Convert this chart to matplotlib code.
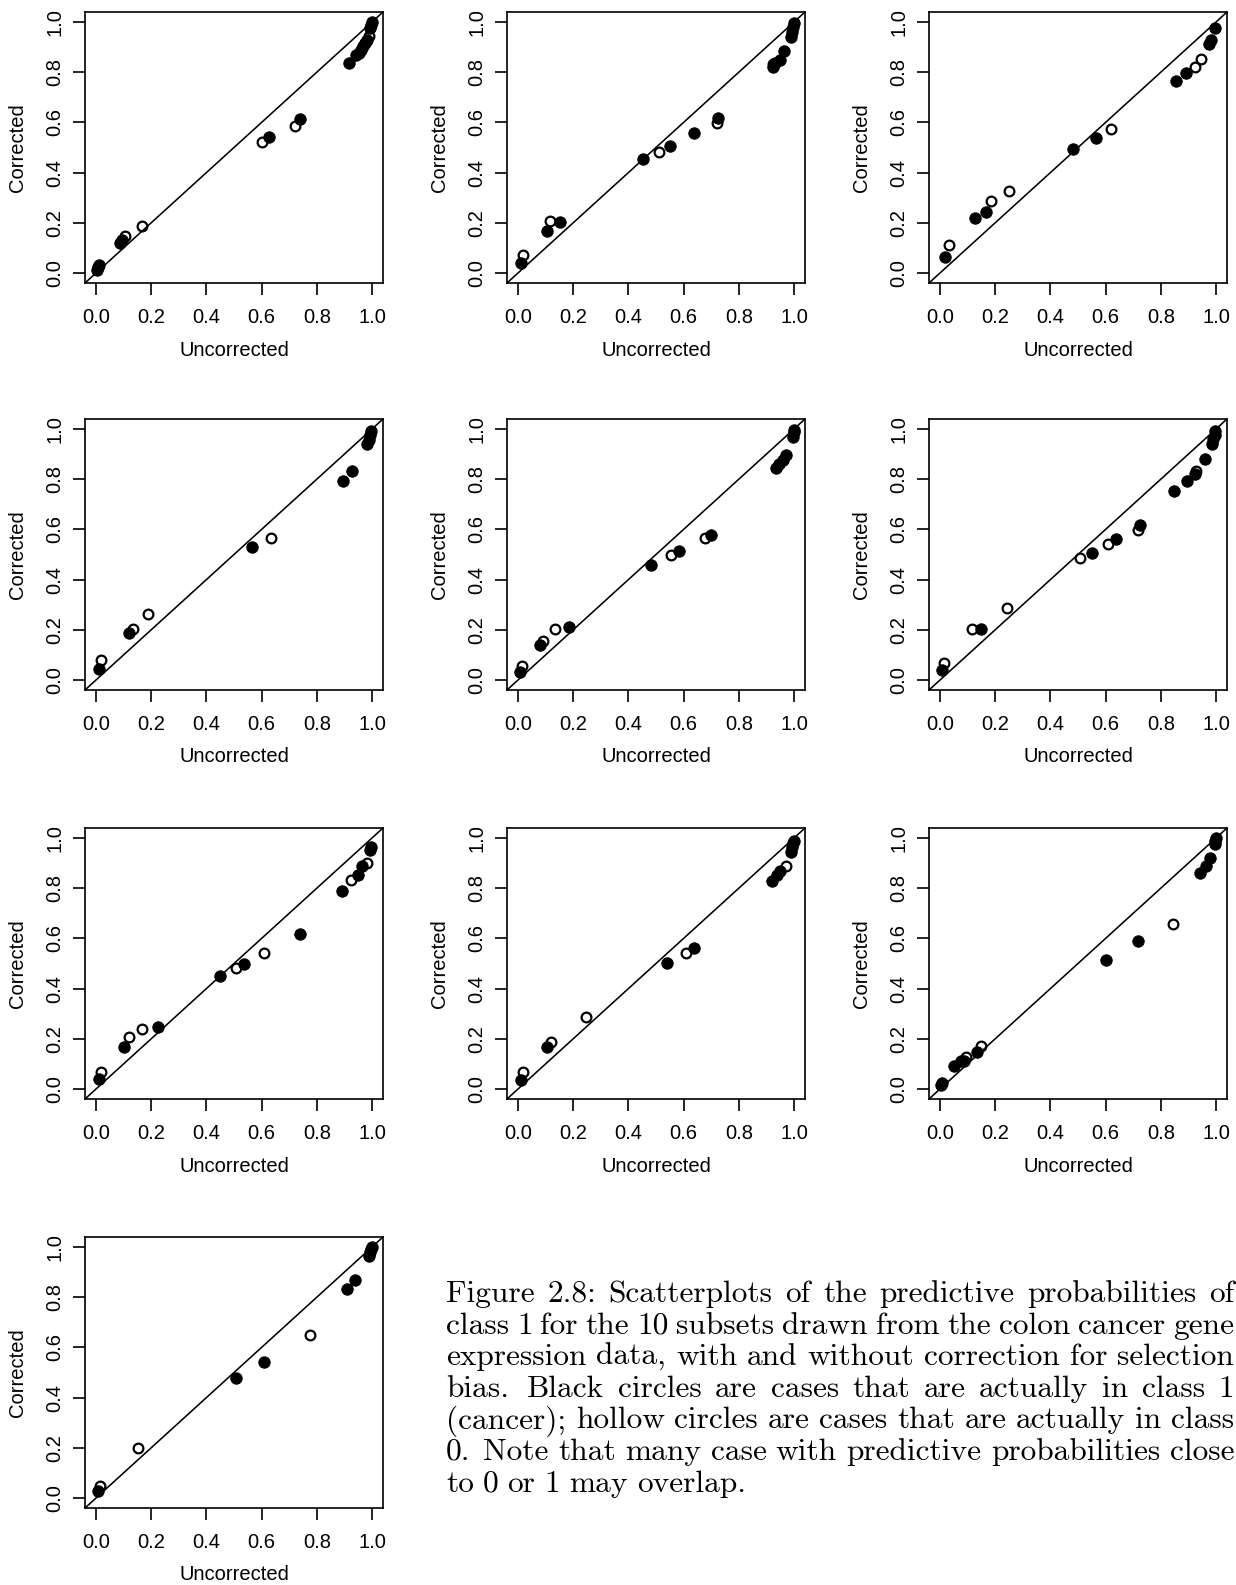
import matplotlib
matplotlib.use('Agg')
import matplotlib.pyplot as plt
import numpy as np

plt.rcParams['font.family'] = ['Liberation Sans', 'DejaVu Sans']

# predictive probabilities of class 1, uncorrected (u) vs corrected (c)
# black = actually class 1 (cancer), white = actually class 0
s1_black_u = [0.004, 0.008, 0.012, 0.088, 0.095, 0.627, 0.74, 0.918, 0.942, 0.952, 0.962, 0.968, 0.975, 0.982, 0.994, 0.997, 1.0]
s1_black_c = [0.012, 0.022, 0.03, 0.12, 0.13, 0.54, 0.612, 0.836, 0.868, 0.875, 0.89, 0.905, 0.915, 0.93, 0.975, 0.99, 1.0]
s1_white_u = [0.104, 0.166, 0.60, 0.72, 0.99]
s1_white_c = [0.148, 0.186, 0.52, 0.586, 0.943]

s2_black_u = [0.012, 0.105, 0.151, 0.452, 0.552, 0.636, 0.725, 0.924, 0.930, 0.948, 0.963, 0.988, 0.993, 0.997, 1.0]
s2_black_c = [0.040, 0.168, 0.205, 0.453, 0.506, 0.559, 0.616, 0.822, 0.835, 0.850, 0.885, 0.940, 0.960, 0.980, 0.997]
s2_white_u = [0.018, 0.117, 0.512, 0.721, 0.925]
s2_white_c = [0.070, 0.208, 0.483, 0.597, 0.832]

s3_black_u = [0.019, 0.125, 0.167, 0.482, 0.566, 0.856, 0.892, 0.975, 0.981, 0.996]
s3_black_c = [0.064, 0.218, 0.242, 0.493, 0.539, 0.764, 0.795, 0.911, 0.927, 0.976]
s3_white_u = [0.031, 0.185, 0.249, 0.619, 0.924, 0.947]
s3_white_c = [0.110, 0.285, 0.325, 0.574, 0.821, 0.852]

s4_black_u = [0.012, 0.118, 0.566, 0.896, 0.926, 0.983, 0.988, 0.993, 0.998]
s4_black_c = [0.044, 0.186, 0.528, 0.794, 0.834, 0.940, 0.957, 0.975, 0.992]
s4_white_u = [0.019, 0.133, 0.187, 0.633]
s4_white_c = [0.080, 0.203, 0.263, 0.565]

s5_black_u = [0.008, 0.081, 0.184, 0.481, 0.583, 0.699, 0.935, 0.946, 0.960, 0.972, 0.996, 0.999, 1.0]
s5_black_c = [0.031, 0.141, 0.212, 0.458, 0.515, 0.578, 0.843, 0.861, 0.876, 0.896, 0.967, 0.987, 0.997]
s5_white_u = [0.014, 0.091, 0.133, 0.556, 0.678]
s5_white_c = [0.054, 0.154, 0.203, 0.498, 0.564]

s6_black_u = [0.007, 0.149, 0.550, 0.636, 0.723, 0.849, 0.895, 0.923, 0.961, 0.987, 0.991, 0.995, 0.998]
s6_black_c = [0.040, 0.203, 0.506, 0.562, 0.618, 0.754, 0.792, 0.821, 0.880, 0.940, 0.960, 0.978, 0.994]
s6_white_u = [0.016, 0.116, 0.244, 0.509, 0.608, 0.719, 0.926]
s6_white_c = [0.068, 0.203, 0.286, 0.485, 0.542, 0.598, 0.833]

s7_black_u = [0.010, 0.103, 0.223, 0.449, 0.537, 0.739, 0.890, 0.951, 0.963, 0.993, 0.995]
s7_black_c = [0.040, 0.167, 0.247, 0.449, 0.499, 0.619, 0.788, 0.854, 0.887, 0.954, 0.964]
s7_white_u = [0.018, 0.118, 0.166, 0.508, 0.609, 0.925, 0.983]
s7_white_c = [0.068, 0.206, 0.240, 0.482, 0.542, 0.834, 0.900]

s8_black_u = [0.012, 0.105, 0.540, 0.636, 0.920, 0.938, 0.950, 0.989, 0.993, 0.997, 1.0]
s8_black_c = [0.037, 0.167, 0.502, 0.562, 0.827, 0.854, 0.867, 0.944, 0.964, 0.980, 0.990]
s8_white_u = [0.018, 0.120, 0.248, 0.609, 0.970]
s8_white_c = [0.068, 0.186, 0.286, 0.542, 0.890]

s9_black_u = [0.005, 0.007, 0.052, 0.076, 0.086, 0.133, 0.600, 0.719, 0.943, 0.963, 0.977, 0.995, 0.998, 1.0]
s9_black_c = [0.015, 0.022, 0.090, 0.110, 0.113, 0.146, 0.513, 0.588, 0.861, 0.890, 0.920, 0.976, 0.988, 1.0]
s9_white_u = [0.094, 0.149, 0.844]
s9_white_c = [0.126, 0.170, 0.659]

s10_black_u = [0.007, 0.508, 0.609, 0.911, 0.938, 0.988, 0.993, 0.997, 0.999]
s10_black_c = [0.028, 0.478, 0.543, 0.834, 0.868, 0.964, 0.980, 0.992, 1.0]
s10_white_u = [0.013, 0.151, 0.776]
s10_white_c = [0.046, 0.199, 0.650]

black_u = [s1_black_u, s2_black_u, s3_black_u, s4_black_u, s5_black_u, s6_black_u, s7_black_u, s8_black_u, s9_black_u, s10_black_u]
black_c = [s1_black_c, s2_black_c, s3_black_c, s4_black_c, s5_black_c, s6_black_c, s7_black_c, s8_black_c, s9_black_c, s10_black_c]
white_u = [s1_white_u, s2_white_u, s3_white_u, s4_white_u, s5_white_u, s6_white_u, s7_white_u, s8_white_u, s9_white_u, s10_white_u]
white_c = [s1_white_c, s2_white_c, s3_white_c, s4_white_c, s5_white_c, s6_white_c, s7_white_c, s8_white_c, s9_white_c, s10_white_c]

ticks = [0.0, 0.2, 0.4, 0.6, 0.8, 1.0]
tick_labels = ['0.0', '0.2', '0.4', '0.6', '0.8', '1.0']

caption = ["Figure 2.8: Scatterplots of the predictive probabilities of",
           "class 1 for the 10 subsets drawn from the colon cancer gene",
           "expression data, with and without correction for selection",
           "bias.  Black circles are cases that are actually in class 1",
           "(cancer); hollow circles are cases that are actually in class",
           "0. Note that many case with predictive probabilities close",
           "to 0 or 1 may overlap."]

W, H = 1236, 1585
fig = plt.figure(figsize=(W / 100, H / 100), dpi=100)

col_left = [85, 507, 929]
row_top = [12, 419, 828, 1237]
bw, bh = 298, 271
fs = 14.5

for i in range(10):
    r, c = divmod(i, 3)
    ax = fig.add_axes([col_left[c] / W, 1 - (row_top[r] + bh) / H, bw / W, bh / H])
    ax.axline((0, 0), (1, 1), color='black', lw=1.15)
    ax.plot(white_u[i], white_c[i], 'o', mfc='none', mec='black', ms=7.0, mew=1.6)
    ax.plot(black_u[i], black_c[i], 'o', color='black', ms=8.2, mew=0.7)
    ax.set_xlim(-0.04, 1.04)
    ax.set_ylim(-0.04, 1.04)
    ax.set_xticks(ticks, tick_labels)
    ax.set_yticks(ticks, tick_labels)
    ax.tick_params(axis='both', length=8.6, width=1.2, labelsize=fs, direction='out')
    ax.tick_params(axis='x', pad=9.5)
    ax.tick_params(axis='y', pad=6.3)
    for lbl in ax.get_yticklabels():
        lbl.set_rotation(90)
        lbl.set_va('center')
    for sp in ax.spines.values():
        sp.set_linewidth(1.2)
    ax.set_xlabel('Uncorrected', fontsize=fs, va='center')
    ax.xaxis.set_label_coords(0.5, -67 / bh)
    ax.set_ylabel('Corrected', fontsize=fs, va='center')
    ax.yaxis.set_label_coords(-67 / bw, 0.5)

# justified caption in a Computer Modern face
renderer = fig.canvas.get_renderer()
x0, x1 = 446, 1234
base0, step = 1302, 31.6
cfs = 22.6
for k, line in enumerate(caption):
    words = line.split()
    y = 1 - (base0 + k * step) / H
    texts = [fig.text(0, y, w, fontsize=cfs, family='cmr10', va='baseline', ha='left') for w in words]
    widths = [t.get_window_extent(renderer).width for t in texts]
    weights = [1.35 if w[-1] in '.' else 1.0 for w in words[:-1]]
    if k < len(caption) - 1:
        unit = (x1 - x0 - sum(widths)) / sum(weights)
    else:
        unit = 9.0
    x = x0
    for j, t in enumerate(texts):
        t.set_x(x / W)
        x += widths[j]
        if j < len(weights):
            x += unit * weights[j]

fig.savefig('out.png', dpi=100)
